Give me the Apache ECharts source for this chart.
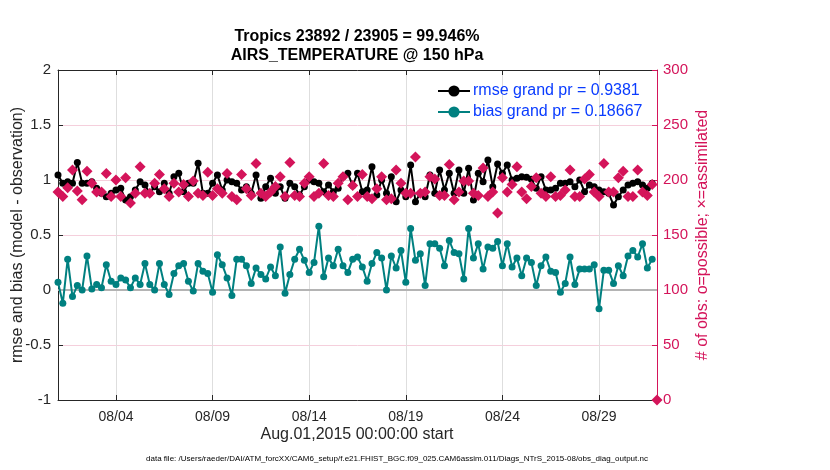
<!DOCTYPE html>
<html>
<head>
<meta charset="utf-8">
<script src="https://cdn.jsdelivr.net/npm/echarts@6/dist/echarts.min.js"></script>
<style>html,body{margin:0;padding:0;background:#fff}#c{width:830px;height:470px}</style>
</head>
<body>
<div id="c"></div>
<script>
// ---- data ----
const titleLines = ['Tropics 23892 / 23905 = 99.946%', 'AIRS_TEMPERATURE @ 150 hPa'];
const rmseName = 'rmse grand pr = 0.9381';
const biasName = 'bias grand pr = 0.18667';
const xAxisTitle = 'Aug.01,2015 00:00:00 start';
const dataFileText = 'data file: /Users/raeder/DAI/ATM_forcXX/CAM6_setup/f.e21.FHIST_BGC.f09_025.CAM6assim.011/Diags_NTrS_2015-08/obs_diag_output.nc';
const leftAxisTitle = 'rmse and bias (model - observation)';
const rightAxisTitle = '# of obs: o=possible; \u00d7=assimilated';
// x in days since Aug.01,2015 00:00:00; one value every 6 hours
const stepDays = 0.25;
const xTickDays = [3, 8, 13, 18, 23, 28];
const xTickLabels = ['08/04', '08/09', '08/14', '08/19', '08/24', '08/29'];

const rmse = [
1.045,0.97,0.985,0.97,1.158,0.97,0.97,0.985,0.924,0.879,
0.848,0.879,0.909,0.924,0.818,0.848,0.909,0.985,0.955,0.879,
0.939,0.894,0.97,0.879,1.03,1.061,0.894,0.97,0.97,1.152,
0.879,0.879,0.97,1.045,0.909,1.0,0.985,0.97,0.909,0.939,
0.879,1.045,0.833,0.939,1.015,0.879,0.939,0.833,0.97,0.939,
0.864,0.939,1.0,0.985,0.97,0.894,0.955,0.894,0.924,1.03,
1.061,0.95,
1.061,0.894,0.909,1.121,0.864,1.0,0.879,1.03,0.803,0.909,
0.848,1.136,0.803,0.879,0.848,1.045,0.879,1.091,0.909,1.061,
0.879,1.091,0.879,1.106,0.818,1.061,0.985,1.182,0.939,1.146,
1.061,1.136,1.0,1.015,1.03,1.024,1.006,0.924,1.03,0.909,
0.909,0.924,0.97,0.97,0.985,0.939,1.0,0.894,0.955,0.939,
0.909,0.894,0.879,0.773,0.848,0.909,0.955,0.97,0.985,0.955,
0.924,0.97
];
const bias = [
0.07,-0.12,0.28,-0.06,0.04,0.0,0.31,0.01,0.05,0.02,
0.23,0.08,0.05,0.11,0.09,0.02,0.11,0.05,0.24,0.05,
0.0,0.24,0.05,-0.04,0.15,0.22,0.24,0.08,-0.01,0.24,
0.17,0.15,-0.02,0.32,0.23,0.11,-0.05,0.28,0.28,0.22,
0.06,0.2,0.14,0.1,0.21,0.13,0.39,-0.03,0.14,0.28,
0.37,0.27,0.16,0.25,0.58,0.12,0.29,0.22,0.37,0.22,
0.16,0.28,0.3,0.21,0.08,0.24,0.34,0.29,0.0,0.31,
0.2,0.36,0.07,0.56,0.27,0.33,0.04,0.42,0.42,0.38,
0.22,0.45,0.34,0.33,0.1,0.56,0.29,0.42,0.19,0.39,
0.38,0.44,0.22,0.42,0.21,0.29,0.13,0.29,0.25,0.04,
0.22,0.3,0.17,0.16,-0.02,0.06,0.3,0.05,0.19,0.19,
0.19,0.23,-0.17,0.18,0.18,0.06,0.22,0.13,0.31,0.36,
0.3,0.42,0.2,0.28
];
const obsCount = [
189,185,193,209,190,182,208,197,189,189,
206,185,200,185,202,179,188,212,188,188,
197,205,192,185,197,189,196,185,199,188,
186,207,186,192,188,206,185,182,205,192,
186,215,188,185,189,194,203,185,216,186,
185,197,203,185,188,215,186,185,197,203,
182,195,
185,205,185,183,192,203,182,183,209,197,
188,188,221,188,189,203,201,186,186,214,
182,189,199,199,188,186,211,185,189,170,
202,189,196,212,189,183,194,202,188,185,
203,185,186,191,209,185,185,201,205,189,
185,215,189,189,202,208,185,185,209,189,
186,196,0
];

// ---- chart ----
const PINK = '#d4145a', TEAL = '#008080', DARK = '#262626';
const FONT = 'Liberation Sans, Arial, Helvetica, sans-serif';
const toXY = arr => arr.map((v, i) => [i * stepDays, v]);
const xMin = 0, xMax = 31;
const tickLabelMap = {};
xTickDays.forEach((d, i) => { tickLabelMap[d] = xTickLabels[i]; });

const chart = echarts.init(document.getElementById('c'), null, {renderer: 'canvas'});
chart.setOption({
  animation: false,
  backgroundColor: '#fff',
  textStyle: {fontFamily: FONT},
  grid: {left: 58, right: 173, top: 70, bottom: 70, containLabel: false, outerBoundsMode: 'none'},
  legend: {
    orient: 'vertical', left: 432, top: 78, itemWidth: 32, itemHeight: 14, itemGap: 5,
    textStyle: {color: '#0a3cff', fontSize: 16, fontFamily: FONT, padding: [0, 0, 0, -2]},
    data: [rmseName, biasName]
  },
  xAxis: [{
    type: 'value', min: xMin, max: xMax, position: 'bottom',
    axisLine: {show: true, onZero: false, lineStyle: {color: DARK, width: 1}},
    axisTick: {show: true, inside: true, length: 5, customValues: xTickDays, lineStyle: {color: DARK}},
    axisLabel: {show: true, customValues: xTickDays, color: DARK, fontSize: 14, margin: 10,
      formatter: v => tickLabelMap[v] || ''},
    splitLine: {show: true, lineStyle: {color: '#dedede', width: 1}}
  }, {
    type: 'value', min: xMin, max: xMax, position: 'top',
    axisLine: {show: true, onZero: false, lineStyle: {color: DARK, width: 1}},
    axisTick: {show: true, inside: true, length: 5, customValues: xTickDays, lineStyle: {color: DARK}},
    axisLabel: {show: false, customValues: xTickDays},
    splitLine: {show: false}
  }],
  yAxis: [{
    type: 'value', min: -1, max: 2, interval: 0.5, position: 'left',
    name: leftAxisTitle, nameLocation: 'middle', nameGap: 32, nameRotate: 90, nameMoveOverlap: false,
    nameTextStyle: {color: DARK, fontSize: 16, fontFamily: FONT},
    axisLine: {show: true, onZero: false, lineStyle: {color: DARK, width: 1}},
    axisTick: {show: true, inside: true, length: 5, lineStyle: {color: DARK}},
    axisLabel: {color: DARK, fontSize: 15, margin: 7},
    splitLine: {show: false}
  }, {
    type: 'value', min: 0, max: 300, interval: 50, position: 'right',
    name: rightAxisTitle, nameLocation: 'middle', nameGap: 38, nameRotate: 90, nameMoveOverlap: false,
    nameTextStyle: {color: PINK, fontSize: 16, fontFamily: FONT},
    axisLine: {show: true, onZero: false, lineStyle: {color: PINK, width: 1}},
    axisTick: {show: true, inside: true, length: 5, lineStyle: {color: PINK}},
    axisLabel: {color: PINK, fontSize: 15, margin: 6},
    splitLine: {show: true, lineStyle: {color: '#f5cfdc', width: 1}}
  }],
  graphic: [
    {type: 'text', x: 357, y: 29, style: {text: titleLines[0], fill: '#000', font: 'bold 16px ' + FONT, align: 'center', textAlign: 'center'}},
    {type: 'text', x: 357, y: 48, style: {text: titleLines[1], fill: '#000', font: 'bold 16px ' + FONT, align: 'center', textAlign: 'center'}},
    {type: 'text', x: 357, y: 427, style: {text: xAxisTitle, fill: DARK, font: '16px ' + FONT, align: 'center', textAlign: 'center'}},
    {type: 'text', x: 397, y: 455, style: {text: dataFileText, fill: '#000', font: '8px ' + FONT, align: 'center', textAlign: 'center'}}
  ],
  series: [{
    name: rmseName, type: 'line', xAxisIndex: 0, yAxisIndex: 0,
    data: toXY(rmse), symbol: 'circle', symbolSize: 7, showSymbol: true,
    lineStyle: {color: '#000', width: 2}, itemStyle: {color: '#000'}, z: 3
  }, {
    name: biasName, type: 'line', xAxisIndex: 0, yAxisIndex: 0,
    data: toXY(bias), symbol: 'circle', symbolSize: 7, showSymbol: true,
    lineStyle: {color: TEAL, width: 2}, itemStyle: {color: TEAL}, z: 3,
    markLine: {silent: true, symbol: 'none', label: {show: false},
      lineStyle: {color: '#b4b4b4', width: 2, type: 'solid'}, data: [{yAxis: 0}], z: 2}
  }, {
    name: 'obs', type: 'scatter', xAxisIndex: 0, yAxisIndex: 1,
    data: toXY(obsCount), symbol: 'diamond', symbolSize: 11,
    itemStyle: {color: PINK, opacity: 1}, z: 4
  }]
});
</script>
</body>
</html>
